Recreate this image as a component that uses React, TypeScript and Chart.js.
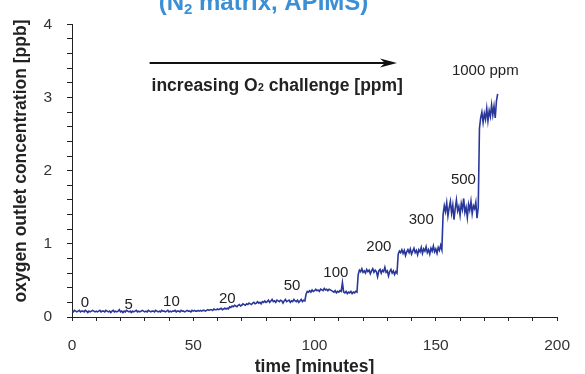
import React, { useEffect, useRef } from 'react';
import { Chart, registerables } from 'chart.js';

Chart.register(...registerables);

const FONT = '"Liberation Sans", Arial, Helvetica, sans-serif';

// ---- data ----
const sampleIntervalMin = 0.5; // one reading every 0.5 minutes, starting at t = 0

const oxygenPpb = [
  // 0 – 55 min
  0.08, 0.07, 0.09, 0.08, 0.07, 0.08, 0.09, 0.07, 0.08, 0.08,
  0.07, 0.09, 0.08, 0.06, 0.08, 0.07, 0.08, 0.09, 0.08, 0.07,
  0.08, 0.07, 0.08, 0.09, 0.07, 0.08, 0.08, 0.07, 0.09, 0.08,
  0.07, 0.08, 0.06, 0.08, 0.09, 0.07, 0.08, 0.07, 0.08, 0.10,
  0.07, 0.08, 0.06, 0.08, 0.07, 0.09, 0.08, 0.07, 0.08, 0.06,
  0.08, 0.07, 0.08, 0.09, 0.07, 0.08, 0.07, 0.08, 0.09, 0.08,
  0.07, 0.08, 0.07, 0.09, 0.08, 0.07, 0.08, 0.08, 0.07, 0.09,
  0.08, 0.07, 0.08, 0.07, 0.09, 0.08, 0.08, 0.07, 0.08, 0.09,
  0.07, 0.08, 0.07, 0.08, 0.08, 0.09, 0.07, 0.08, 0.08, 0.07,
  0.09, 0.08, 0.08, 0.07, 0.08, 0.09, 0.08, 0.08, 0.07, 0.09,
  0.08, 0.09, 0.08, 0.08, 0.09, 0.08, 0.09, 0.08, 0.09, 0.09,
  0.08,
  // 55.5 – 64.5 min
  0.09, 0.10, 0.09, 0.10, 0.10, 0.09, 0.11, 0.10, 0.10, 0.11,
  0.10, 0.11, 0.12, 0.10, 0.11, 0.12, 0.11, 0.12, 0.11,
  // 65 – 80 min
  0.14, 0.13, 0.15, 0.14, 0.16, 0.15, 0.14, 0.16, 0.17, 0.15,
  0.16, 0.18, 0.17, 0.16, 0.18, 0.17, 0.19, 0.18, 0.17, 0.19,
  0.20, 0.18, 0.19, 0.21, 0.19, 0.20, 0.18, 0.21, 0.20, 0.22,
  0.20,
  // 80.5 – 96 min
  0.21, 0.23, 0.20, 0.22, 0.24, 0.21, 0.22, 0.20, 0.23, 0.22,
  0.21, 0.23, 0.22, 0.19, 0.22, 0.24, 0.21, 0.22, 0.23, 0.20,
  0.22, 0.21, 0.24, 0.22, 0.21, 0.23, 0.20, 0.22, 0.24, 0.21,
  0.23, 0.22,
  // 96.5 – 107 min
  0.31, 0.35, 0.34, 0.36, 0.34, 0.37, 0.35, 0.36, 0.38, 0.36,
  0.37, 0.35, 0.38, 0.37, 0.36, 0.39, 0.37, 0.38, 0.36, 0.38,
  0.37, 0.36,
  // 107.5 – 117.5 min
  0.35, 0.34, 0.36, 0.33, 0.35, 0.34, 0.36, 0.35, 0.47, 0.34,
  0.33, 0.35, 0.32, 0.34, 0.33, 0.35, 0.32, 0.34, 0.33, 0.35,
  0.34,
  // 118 – 134 min
  0.58, 0.64, 0.62, 0.66, 0.61, 0.63, 0.60, 0.65, 0.62, 0.64,
  0.59, 0.63, 0.66, 0.61, 0.64, 0.62, 0.55, 0.63, 0.65, 0.60,
  0.64, 0.62, 0.68, 0.61, 0.63, 0.56, 0.62, 0.65, 0.60, 0.63,
  0.58, 0.62, 0.60,
  // 134.5 – 152.5 min
  0.86, 0.90, 0.88, 0.92, 0.87, 0.91, 0.84, 0.89, 0.92, 0.88,
  0.93, 0.86, 0.90, 0.94, 0.88, 0.91, 0.85, 0.92, 0.89, 0.95,
  0.87, 0.93, 0.90, 0.96, 0.88, 0.92, 0.86, 0.94, 0.90, 0.97,
  0.89, 0.93, 0.87, 0.95, 0.91, 0.98, 0.92,
  // 153 – 167.5 min
  1.40, 1.52, 1.44, 1.56, 1.38, 1.49, 1.58, 1.42, 1.53, 1.33,
  1.48, 1.60, 1.45, 1.51, 1.39, 1.55, 1.47, 1.62, 1.43, 1.50,
  1.36, 1.54, 1.46, 1.58, 1.41, 1.52, 1.48, 1.57, 1.35, 1.50,
  // 168 – 175.5 min
  2.58, 2.72, 2.80, 2.66, 2.78, 2.70, 2.85, 2.68, 2.82, 2.74,
  2.90, 2.76, 2.88, 2.72, 2.95, 3.05,
];

const xTickLabels = [0, 50, 100, 150, 200];
const yTickLabels = [0, 1, 2, 3, 4];

// O2 challenge step annotations (text, and anchor in minutes / ppb)
const challengeLabels = ['0', '5', '10', '20', '50', '100', '200', '300', '500'];
const challengeLabelMin = [5.3, 23.4, 41, 64, 90.7, 108.8, 126.5, 144, 161.4];
const challengeLabelPpb = [0.2, 0.17, 0.21, 0.25, 0.43, 0.6, 0.96, 1.33, 1.87];

const finalLabel = '1000 ppm';
const finalLabelMin = 170.4;
const finalLabelPpb = 3.36;

const arrowFromMin = 32;
const arrowToMin = 134;
const arrowPpb = 3.47;
const arrowTextMin = 32.8;
const arrowTextPpb = 3.093;

const titleText = ['(N', '2', ' matrix, APIMS)'];
const yTitle = 'oxygen outlet concentration [ppb]';
const xTitle = 'time [minutes]';

const overlayPlugin = {
  id: 'overlay',
  afterDatasetsDraw(chart: any) {
    const { ctx, scales } = chart;
    const x = scales.x;
    const y = scales.y;
    ctx.save();

    // step labels
    ctx.fillStyle = '#222';
    ctx.font = `15px ${FONT}`;
    ctx.textAlign = 'center';
    ctx.textBaseline = 'middle';
    challengeLabels.forEach((t, i) => {
      ctx.fillText(t, x.getPixelForValue(challengeLabelMin[i]), y.getPixelForValue(challengeLabelPpb[i]));
    });
    ctx.fillText(finalLabel, x.getPixelForValue(finalLabelMin), y.getPixelForValue(finalLabelPpb));

    // arrow
    const ax0 = x.getPixelForValue(arrowFromMin);
    const ax1 = x.getPixelForValue(arrowToMin);
    const ay = Math.round(y.getPixelForValue(arrowPpb));
    ctx.strokeStyle = '#111';
    ctx.fillStyle = '#111';
    ctx.lineWidth = 2;
    ctx.beginPath();
    ctx.moveTo(ax0, ay);
    ctx.lineTo(ax1 - 8, ay);
    ctx.stroke();
    ctx.beginPath();
    ctx.moveTo(ax1, ay);
    ctx.lineTo(ax1 - 17, ay - 4.5);
    ctx.lineTo(ax1 - 12, ay);
    ctx.lineTo(ax1 - 17, ay + 4.5);
    ctx.closePath();
    ctx.fill();

    // arrow text with subscript
    ctx.fillStyle = '#222';
    ctx.textAlign = 'left';
    ctx.textBaseline = 'alphabetic';
    let tx = x.getPixelForValue(arrowTextMin);
    const ty = y.getPixelForValue(arrowTextPpb);
    const big = `bold 17.5px ${FONT}`;
    const small = `bold 10.5px ${FONT}`;
    ctx.font = big;
    ctx.fillText('increasing O', tx, ty);
    tx += ctx.measureText('increasing O').width + 0.5;
    ctx.font = small;
    ctx.fillText('2', tx, ty);
    tx += ctx.measureText('2').width;
    ctx.font = big;
    ctx.fillText(' challenge [ppm]', tx, ty);

    // title (partly above the canvas)
    ctx.fillStyle = '#3b8fd4';
    const tBig = `bold 24px ${FONT}`;
    const tSmall = `bold 15px ${FONT}`;
    ctx.font = tBig;
    const w0 = ctx.measureText(titleText[0]).width;
    const w2 = ctx.measureText(titleText[2]).width;
    ctx.font = tSmall;
    const w1 = ctx.measureText(titleText[1]).width;
    let px = 263.5 - (w0 + w1 + w2) / 2;
    const pyBase = 10;
    ctx.font = tBig;
    ctx.fillText(titleText[0], px, pyBase);
    px += w0;
    ctx.font = tSmall;
    ctx.fillText(titleText[1], px, pyBase + 4);
    px += w1;
    ctx.font = tBig;
    ctx.fillText(titleText[2], px, pyBase);

    // y-axis title
    ctx.fillStyle = '#222';
    ctx.font = `bold 17.5px ${FONT}`;
    ctx.textAlign = 'center';
    ctx.textBaseline = 'middle';
    ctx.translate(21, 161);
    ctx.rotate(-Math.PI / 2);
    ctx.fillText(yTitle, 0, 0);

    ctx.restore();
  },
};

export default function App() {
  const canvasRef = useRef<HTMLCanvasElement | null>(null);

  useEffect(() => {
    document.body.style.margin = '0';
    const canvas = canvasRef.current;
    if (!canvas) return;
    const chart = new Chart(canvas, {
      type: 'line',
      data: {
        datasets: [
          {
            data: oxygenPpb.map((v, i) => ({ x: i * sampleIntervalMin, y: v })),
            borderColor: '#29379a',
            borderWidth: 1.6,
            pointRadius: 0,
            tension: 0,
            fill: false,
          },
        ],
      },
      options: {
        responsive: false,
        animation: false,
        devicePixelRatio: 1,
        layout: { padding: { top: 17, right: 26, left: 0, bottom: 0 } },
        plugins: {
          legend: { display: false },
          tooltip: { enabled: false },
          title: { display: false },
        },
        scales: {
          x: {
            type: 'linear',
            min: 0,
            max: 200,
            ticks: {
              stepSize: 10,
              autoSkip: false,
              maxRotation: 0,
              maxTicksLimit: 100,
              padding: 15,
              color: '#333',
              font: { family: FONT, size: 15.5 },
              callback: (v: any) => (xTickLabels.includes(Number(v)) ? String(v) : ''),
            },
            grid: {
              display: true,
              drawOnChartArea: false,
              drawTicks: true,
              tickLength: 4,
              color: '#222',
            },
            border: { display: true, color: '#222', width: 1 },
            title: {
              display: true,
              text: xTitle,
              color: '#222',
              font: { family: FONT, size: 17.5, weight: 'bold', lineHeight: 1 },
              padding: { top: 0, bottom: -2 },
            },
            afterFit: (s: any) => {
              s.height = 57;
            },
          },
          y: {
            type: 'linear',
            min: 0,
            max: 4,
            ticks: {
              stepSize: 0.2,
              autoSkip: false,
              maxTicksLimit: 100,
              padding: 15,
              color: '#333',
              font: { family: FONT, size: 15.5 },
              callback: (v: any) => {
                const r = Math.round(Number(v));
                return Math.abs(Number(v) - r) < 1e-6 && yTickLabels.includes(r) ? String(r) : '';
              },
            },
            grid: {
              display: true,
              drawOnChartArea: false,
              drawTicks: true,
              tickLength: 5,
              color: '#222',
            },
            border: { display: true, color: '#222', width: 1 },
            afterFit: (s: any) => {
              s.width = 72;
            },
          },
        },
      },
      plugins: [overlayPlugin],
    });
    return () => chart.destroy();
  }, []);

  return (
    <div style={{ width: 585, height: 374, position: 'relative', background: '#fff' }}>
      <canvas ref={canvasRef} width={585} height={374} style={{ display: 'block' }} />
    </div>
  );
}
